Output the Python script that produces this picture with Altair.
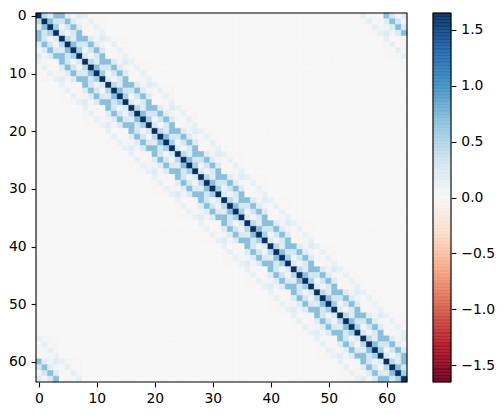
import altair as alt
import pandas as pd

# Block values: the matrix repeats in 4x4 blocks along the (circular) diagonal
BLOCK_0 = [[1.65, 0.45, 0.20, 0.70],
           [0.45, 1.65, 0.70, 0.30],
           [0.20, 0.70, 1.65, 0.55],
           [0.70, 0.30, 0.55, 1.65]]
BLOCK_1 = [[0.70, 0.20, 0.06, 0.20],
           [0.30, 0.70, 0.20, 0.05],
           [0.05, 0.30, 0.70, 0.22],
           [0.25, 0.05, 0.25, 0.70]]
BLOCK_2 = [[0.13, 0.03, -0.03, -0.01],
           [0.02, 0.13, -0.01, -0.03],
           [-0.03, 0.02, 0.13, 0.03],
           [-0.01, -0.03, 0.04, 0.13]]
N_BLOCKS = 16
VMAX = 1.65
X_TICKS = [0, 10, 20, 30, 40, 50, 60]
BAR_TICKS = [-1.5, -1.0, -0.5, 0.0, 0.5, 1.0, 1.5]
N_LEVELS = 256
RDBU = ["#67001f", "#b2182b", "#d6604d", "#f4a582", "#fddbc7", "#f7f7f7",
        "#d1e5f0", "#92c5de", "#4393c3", "#2166ac", "#053061"]


def value(i, j):
    bi, pi = divmod(i, 4)
    bj, pj = divmod(j, 4)
    d = (bj - bi) % N_BLOCKS
    if d == 0:
        return BLOCK_0[pi][pj]
    if d == 1:
        return BLOCK_1[pi][pj]
    if d == 2:
        return BLOCK_2[pi][pj]
    if d == N_BLOCKS - 1:
        return BLOCK_1[pj][pi]
    if d == N_BLOCKS - 2:
        return BLOCK_2[pj][pi]
    return 0.0


n = 4 * N_BLOCKS
cells = pd.DataFrame(
    [{"x": j - 0.5, "x2": j + 0.5, "y": i - 0.5, "y2": i + 0.5, "v": value(i, j)}
     for i in range(n) for j in range(n)]
)
step = 2 * VMAX / N_LEVELS
levels = pd.DataFrame(
    [{"y": -VMAX + k * step, "y2": -VMAX + (k + 1) * step, "v": -VMAX + (k + 0.5) * step}
     for k in range(N_LEVELS)]
)

color_scale = alt.Scale(domain=[-VMAX + i * VMAX / 5 for i in range(11)], range=RDBU,
                        interpolate="rgb")
color = alt.Color("v:Q", legend=None, scale=color_scale)
stroke = alt.Stroke("v:Q", legend=None, scale=color_scale)
extent = [-0.5, n - 0.5]
x_scale = alt.Scale(domain=extent, nice=False, zero=False)
y_scale = alt.Scale(domain=[extent[1], extent[0]], nice=False, zero=False)
axis_style = dict(grid=False, title=None, tickSize=4.9, tickWidth=1.1, tickColor="black",
                  domain=False, labelColor="black", labelFont="DejaVu Sans",
                  labelFontSize=13.9, labelPadding=4.9, labelAngle=0)

heat = alt.Chart(cells).mark_rect(opacity=1, strokeOpacity=1, fillOpacity=1, strokeWidth=0.5).encode(
    x=alt.X("x:Q", scale=x_scale, axis=alt.Axis(values=X_TICKS, format="d", **axis_style)),
    x2="x2:Q",
    y=alt.Y("y:Q", scale=y_scale, axis=alt.Axis(values=X_TICKS, format="d", **axis_style)),
    y2="y2:Q",
    color=color,
    stroke=stroke,
)
frame = alt.Chart(pd.DataFrame({"a": [0]})).mark_rect(
    fill="transparent", stroke="black", strokeWidth=1.1, opacity=1
).encode(
    x=alt.datum(extent[0], scale=x_scale),
    x2=alt.datum(extent[1]),
    y=alt.datum(extent[0], scale=y_scale),
    y2=alt.datum(extent[1]),
)
left = alt.layer(heat, frame).properties(width=371, height=369)

bar_scale = alt.Scale(domain=[-VMAX, VMAX], nice=False, zero=False)
bar = alt.Chart(levels).mark_rect(opacity=1, strokeOpacity=1, fillOpacity=1, strokeWidth=0.5).encode(
    x=alt.value(0),
    x2=alt.value(18),
    y=alt.Y("y:Q", scale=bar_scale,
            axis=alt.Axis(values=BAR_TICKS, format=".1f", orient="right", **axis_style)),
    y2="y2:Q",
    color=color,
    stroke=stroke,
)
bar_frame = alt.Chart(pd.DataFrame({"a": [0]})).mark_rect(
    fill="transparent", stroke="black", strokeWidth=1.1, opacity=1
).encode(
    x=alt.value(0),
    x2=alt.value(18),
    y=alt.datum(-VMAX, scale=bar_scale),
    y2=alt.datum(VMAX),
)
right = alt.layer(bar, bar_frame).properties(width=18, height=369)

chart = alt.hconcat(left, right, spacing=24).resolve_scale(
    color="independent", stroke="independent"
).configure_view(stroke=None).properties(
    padding={"left": 0, "top": 0, "right": 0, "bottom": 0}
)

chart.save("out.html", embed_options={"renderer": "svg", "actions": False})
